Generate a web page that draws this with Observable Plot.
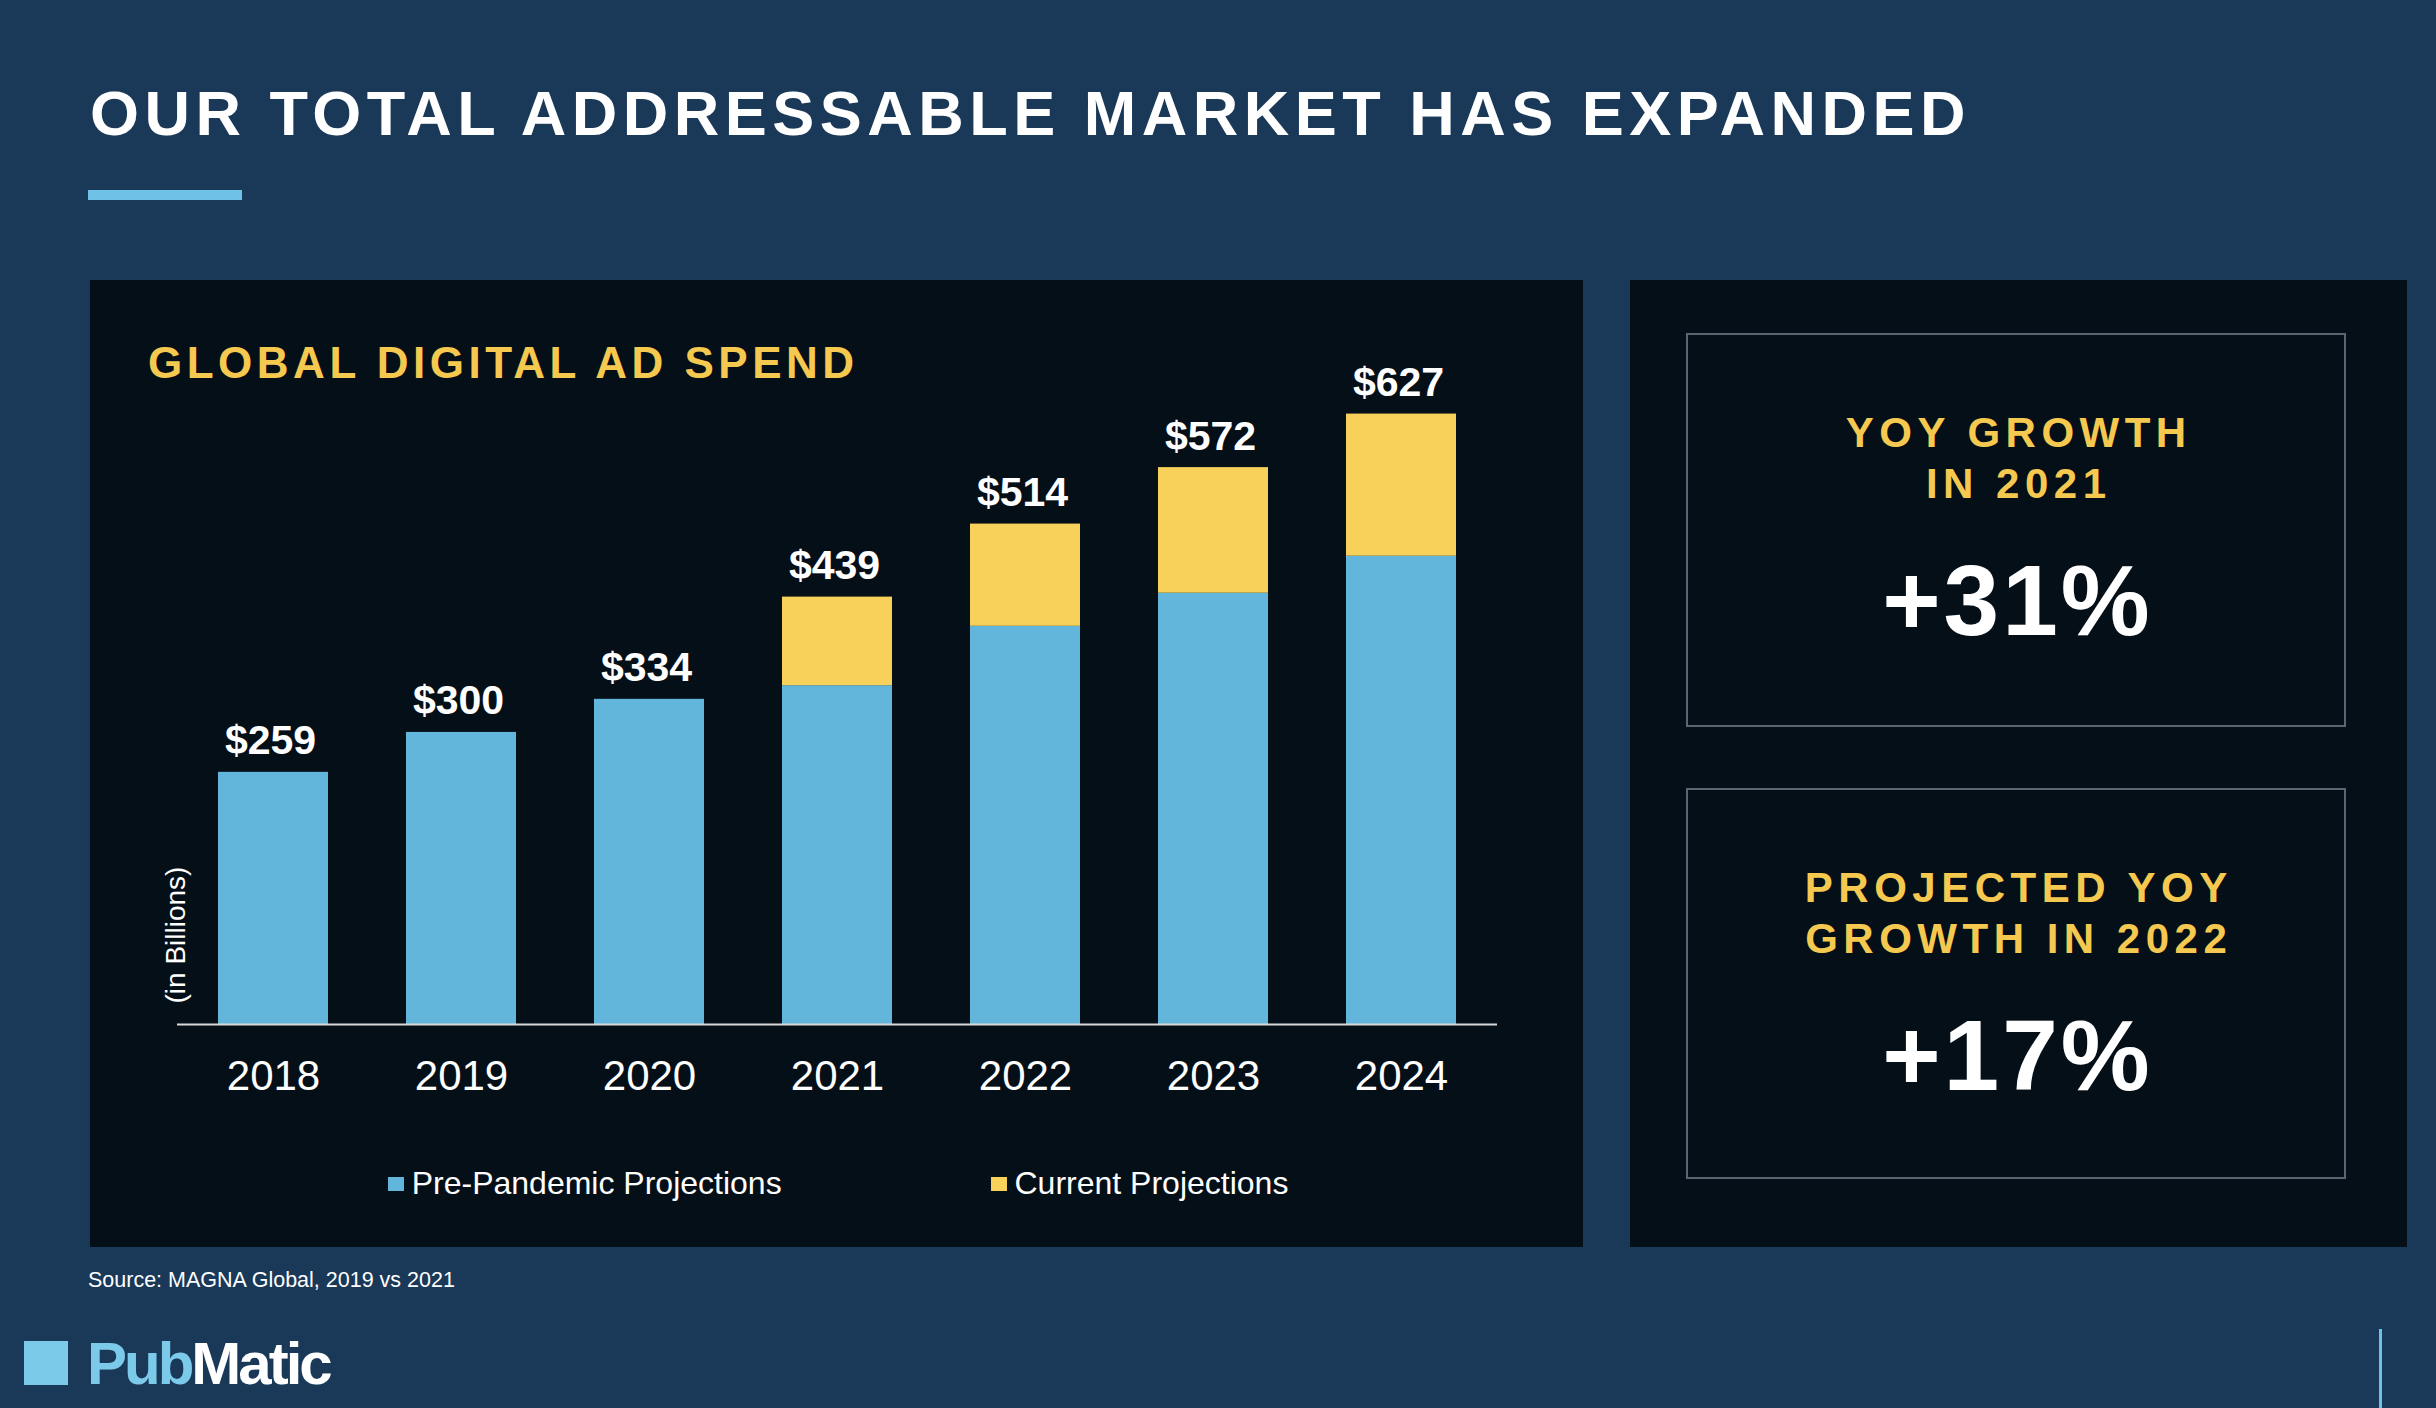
<!DOCTYPE html>
<html>
<head>
<meta charset="utf-8">
<script src="https://cdn.jsdelivr.net/npm/d3@7"></script>
<script src="https://cdn.jsdelivr.net/npm/@observablehq/plot@0.6"></script>
<style>
  html, body { margin: 0; padding: 0; }
  body {
    width: 2436px; height: 1408px; overflow: hidden; position: relative;
    background: #1a3858;
    font-family: "Liberation Sans", Arial, Helvetica, sans-serif;
  }
  .abs { position: absolute; white-space: nowrap; line-height: 1; }
  #title { left: 90px; top: 81.7px; font-size: 63px; font-weight: bold; color: #ffffff; letter-spacing: 5.5px; }
  #accent { left: 88px; top: 190px; width: 154px; height: 10px; background: #6fc1e8; }
  #panelL { position: absolute; left: 90px; top: 280px; width: 1493px; height: 967px; background: #050f18; }
  #panelR { position: absolute; left: 1630px; top: 280px; width: 777px; height: 967px; background: #050f18; }
  #chart { position: absolute; left: 0; top: 0; }
  #heading { left: 58px; top: 61.1px; font-size: 44px; font-weight: bold; color: #f5c94f; letter-spacing: 4.5px; z-index: 2; }
  .sw { position: absolute; width: 16px; height: 14px; top: 897px; }
  .lgText { font-size: 32px; color: #ffffff; top: 886.9px; }
  .box { position: absolute; left: 56px; width: 656px; border: 2px solid #5b6672; }
  .kline { left: 0; width: 100%; text-align: center; font-weight: bold; }
  .kHead { font-size: 42px; color: #f5c94f; letter-spacing: 5.5px; padding-left: 5.5px; box-sizing: border-box; }
  .kVal { font-size: 100px; color: #ffffff; letter-spacing: 3px; padding-left: 3px; box-sizing: border-box; }
  #source { left: 88px; top: 1269.8px; font-size: 21.5px; color: #ffffff; }
  #logoSq { left: 24px; top: 1341px; width: 44px; height: 44px; background: #7ccaea; }
  #logoTxt { left: 87px; top: 1333.9px; font-size: 60px; font-weight: bold; letter-spacing: -3px; }
  #vline { left: 2379px; top: 1329px; width: 3px; height: 79px; background: #6fc1e8; }
</style>
</head>
<body>
<div id="title" class="abs"></div>
<div id="accent" class="abs"></div>

<div id="panelL">
  <div id="chart"></div>
  <div id="heading" class="abs"></div>
  <div id="legend"></div>
</div>

<div id="panelR"></div>

<div id="source" class="abs"></div>
<div id="logoSq" class="abs"></div>
<div id="logoTxt" class="abs"><span style="color:#7ccaea">Pub</span><span style="color:#ffffff">Matic</span></div>
<div id="vline" class="abs"></div>

<script>
// ---------- data ----------
const titleText = "OUR TOTAL ADDRESSABLE MARKET HAS EXPANDED";
const chartHeading = "GLOBAL DIGITAL AD SPEND";
const yLabel = "(in Billions)";
const years = ["2018", "2019", "2020", "2021", "2022", "2023", "2024"];
const prePandemic = [259, 300, 334, 348, 409, 443, 481];
const currentProjection = [259, 300, 334, 439, 514, 572, 627];
const seriesNames = ["Pre-Pandemic Projections", "Current Projections"];
const kpiHeads = [["YOY GROWTH", "IN 2021"], ["PROJECTED YOY", "GROWTH IN 2022"]];
const kpiValues = ["+31%", "+17%"];
const sourceText = "Source: MAGNA Global, 2019 vs 2021";

// ---------- styles ----------
const blue = "#63b6db";
const yellow = "#f8d15a";

// ---------- text ----------
document.getElementById("title").textContent = titleText;
document.getElementById("heading").textContent = chartHeading;
document.getElementById("source").textContent = sourceText;

// ---------- chart ----------
const rows = years.map((y, i) => ({year: y, pre: prePandemic[i], total: currentProjection[i]}));

const plot = Plot.plot({
  width: 1493,
  height: 870,
  marginLeft: 87,
  marginRight: 86,
  marginTop: 62.5,
  marginBottom: 126,
  style: {background: "transparent", color: "#ffffff", fontFamily: "'Liberation Sans', Arial, sans-serif", overflow: "visible"},
  x: {type: "band", domain: years, paddingInner: 0.414, paddingOuter: 0.207, label: null},
  y: {domain: [0, 700], axis: null},
  marks: [
    Plot.barY(rows, {x: "year", y1: 0, y2: "pre", fill: blue}),
    Plot.barY(rows.filter(d => d.total > d.pre), {x: "year", y1: "pre", y2: "total", fill: yellow}),
    Plot.ruleY([0], {stroke: "#d9d9d9", strokeWidth: 2}),
    Plot.axisX({tickSize: 0, tickPadding: 36, fontSize: 42, fill: "#ffffff", label: null}),
    Plot.text(rows, {x: "year", y: "total", text: d => "$" + d.total, lineAnchor: "bottom", dy: -18,
      fontSize: 41, fontWeight: "bold", fill: "#ffffff", dx: -3}),
    Plot.text([yLabel], {frameAnchor: "bottom-left", rotate: -90, textAnchor: "start", lineAnchor: "bottom",
      dx: 7, dy: -21, fontSize: 28, fill: "#ffffff"})
  ]
});
document.getElementById("chart").appendChild(plot);

// ---------- legend ----------
const legend = document.getElementById("legend");
const legendColors = [blue, yellow];
const swLeft = [298, 901];
const txtLeft = [321.7, 924.5];
seriesNames.forEach((name, i) => {
  const sw = document.createElement("div");
  sw.className = "sw";
  sw.style.left = swLeft[i] + "px";
  sw.style.background = legendColors[i];
  legend.appendChild(sw);
  const t = document.createElement("div");
  t.className = "abs lgText";
  t.style.left = txtLeft[i] + "px";
  t.textContent = name;
  legend.appendChild(t);
});

// ---------- KPI boxes ----------
const panelR = document.getElementById("panelR");
const boxTops = [53, 508];
const boxHeights = [390, 387];
kpiValues.forEach((v, i) => {
  const box = document.createElement("div");
  box.className = "box";
  box.style.top = boxTops[i] + "px";
  box.style.height = boxHeights[i] + "px";
  const h1 = document.createElement("div");
  h1.className = "abs kline kHead";
  h1.style.top = (114.5 - 35.55 - 2) + "px";
  h1.textContent = kpiHeads[i][0];
  const h2 = document.createElement("div");
  h2.className = "abs kline kHead";
  h2.style.top = (166 - 35.55 - 2) + "px";
  h2.textContent = kpiHeads[i][1];
  const val = document.createElement("div");
  val.className = "abs kline kVal";
  val.style.top = (302 - 84.65 - 2) + "px";
  val.textContent = v;
  box.appendChild(h1); box.appendChild(h2); box.appendChild(val);
  panelR.appendChild(box);
});
</script>
</body>
</html>
